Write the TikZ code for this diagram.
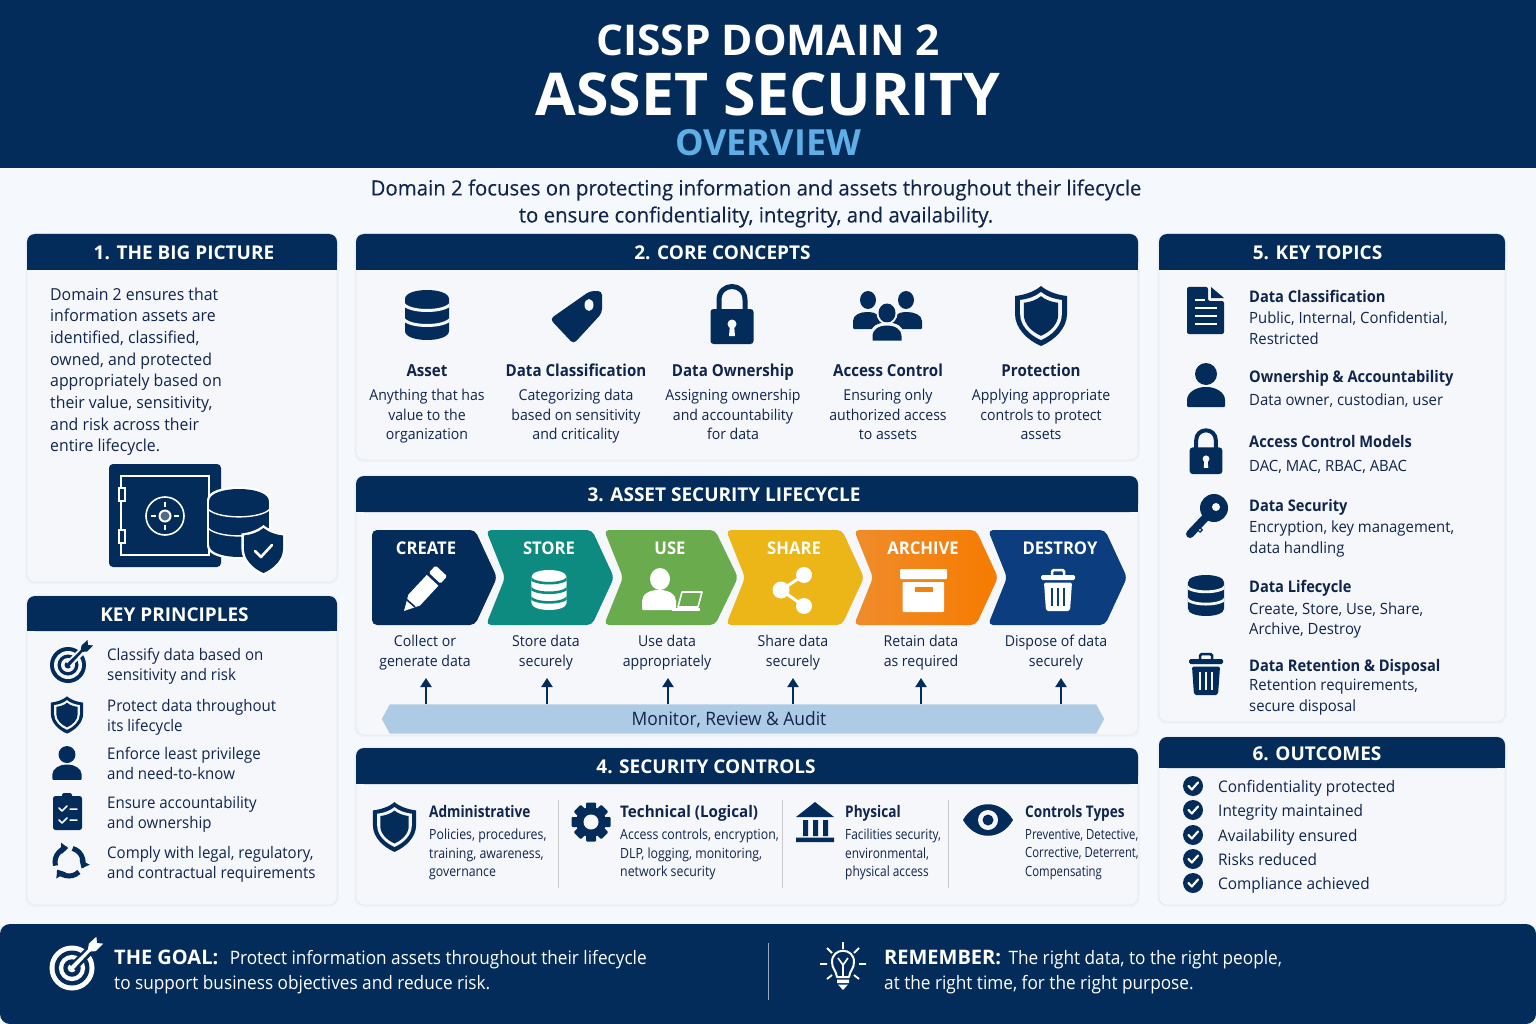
\documentclass[tikz,border=0pt]{standalone}
\usepackage{fontspec}
\usetikzlibrary{arrows.meta,calc}
\setmainfont{Open Sans}
\IfFontExistsTF{Open Sans SemiBold}{\def\sbname{Open Sans SemiBold}}{\def\sbname{Open Sans Bold}}
\newfontfamily\semif{\sbname}
\newfontfamily\semic[FakeStretch=.915]{\sbname}
\newfontfamily\semid[FakeStretch=.95]{\sbname}
\newfontfamily\semie[FakeStretch=.85]{\sbname}
\newfontfamily\bodyf[FakeStretch=.96]{Open Sans}
\newfontfamily\condf[FakeStretch=.94]{Open Sans}
\newfontfamily\secA[FakeStretch=.88]{Open Sans}
\newfontfamily\secB[FakeStretch=.85]{Open Sans}
\newfontfamily\secC[FakeStretch=.81]{Open Sans}
\newfontfamily\botf[FakeStretch=.93]{Open Sans}
\newfontfamily\subf[FakeStretch=.972,FakeBold=.15]{Open Sans}
\newcommand\fz[2]{\fontsize{#1}{#2}\selectfont}
\definecolor{navy}{HTML}{042C5A}
\definecolor{ink}{HTML}{10244C}
\definecolor{pagebg}{HTML}{F5F8FC}
\definecolor{cardbg}{HTML}{F5F7FB}
\definecolor{cardedge}{HTML}{E4E9F1}
\definecolor{skyb}{HTML}{5FAEE6}
\definecolor{barb}{HTML}{AECBE6}
\definecolor{cTeal}{HTML}{0E8B80}
\definecolor{cGreen}{HTML}{6AAB4D}
\definecolor{cYellow}{HTML}{EDB618}
\definecolor{cOrange}{HTML}{F4820F}
\definecolor{cOrangeL}{HTML}{EF8C2B}
\definecolor{cOrangeR}{HTML}{F67B00}
\definecolor{cBlue}{HTML}{0B3D7F}
\tikzset{
 strutted/.style={execute at begin node=\strut,execute at end node=\strut},
 txt/.style={inner sep=0,text=ink,align=left,anchor=west,strutted,yshift=-2.5pt},
 ctr/.style={inner sep=0,text=ink,align=center,strutted,yshift=-2.5pt},
 hdr/.style={inner sep=0,text=white,align=center,font=\semif\fz{19}{24},strutted,yshift=-3pt},
 chevron/.style={rounded corners=5},
 chevlab/.style={inner sep=0,text=white,align=center,font=\semid\fz{17.5}{22},strutted,yshift=-2pt},
 up/.style={draw=navy,line width=2,-{Triangle[length=9,width=11]}},
 sep/.style={draw=#1,line width=.8},
}
% card: x1 y1 x2 y2 yheader name title titlecentre
\newcommand\card[8]{%
 \fill[rounded corners=9,cardedge!55] (#1-2,#2-1) rectangle (#3+2,#4+2);
 \fill[rounded corners=8,cardbg,draw=cardedge,line width=.6] (#1,#2) rectangle (#3,#4);
 \fill[rounded corners=8,navy] (#1,#2) rectangle (#3,#5);
 \fill[navy] (#1,#5-10) rectangle (#3,#5);
 \node[hdr] (#6) at (#8,{(#2+#5)/2}) {#7};
}
\newcommand\icDb[7]{\begin{scope}[shift={(#1,#2)},scale=#3]
 \fill[#4] (-22,-16) .. controls (-22,-28) and (22,-28) .. (22,-16) -- (22,16) .. controls (22,28) and (-22,28) .. (-22,16) -- cycle;
 \begin{scope}
 \clip (-22,-16) .. controls (-22,-28) and (22,-28) .. (22,-16) -- (22,16) .. controls (22,28) and (-22,28) .. (-22,16) -- cycle;
 \foreach \yy in {#7} {\draw[#5,line width=#6] (-24,\yy-3) .. controls (-20,\yy+7) and (20,\yy+7) .. (24,\yy-3);}
 \end{scope}
\end{scope}}
\newcommand\shp{(0,-30) .. controls (7,-24) and (17,-21) .. (26,-20) -- (26,-2) .. controls (26,12) and (14,24) .. (0,30) .. controls (-14,24) and (-26,12) .. (-26,-2) -- (-26,-20) .. controls (-17,-21) and (-7,-24) .. (0,-30) -- cycle}
\newcommand\shieldFill[4]{\begin{scope}[shift={(#1,#2)},scale=#3]\fill[#4] \shp;\end{scope}}
\newcommand\icShield[5]{\begin{scope}[shift={(#1,#2)},scale=#3]\fill[#4] \shp;
 \begin{scope}[scale=.8]\fill[#5] \shp;\end{scope}\begin{scope}[scale=.66]\fill[#4] \shp;\end{scope}\end{scope}}
\newcommand\icTarget[5]{\begin{scope}[shift={(#1,#2)},scale=#3]
 \fill[#4] (0,0) circle (18); \fill[#5] (0,0) circle (14); \fill[#4] (0,0) circle (10.5); \fill[#5] (0,0) circle (7); \fill[#4] (0,0) circle (3.5);
 \fill[#5] (-2,-3) -- (14,-19) -- (19,-14) -- (3,2) -- cycle;
 \fill[#4] (-.8,-1.6) -- (15,-17) -- (16.6,-15.4) -- (.8,1.6) -- cycle;
 \fill[#4] (12.5,-13) -- (13.5,-19.5) -- (19.5,-25) -- (20,-20) -- (25,-19.5) -- (19,-13.5) -- cycle;
\end{scope}}
\newcommand\icPerson[4]{\begin{scope}[shift={(#1,#2)},scale=#3]
 \fill[#4] (0,-11) circle (11);
 \fill[#4,rounded corners=1] (-19,22) -- (-19,16) .. controls (-19,7) and (-9,2) .. (0,2) .. controls (9,2) and (19,7) .. (19,16) -- (19,22) -- cycle;
\end{scope}}
\newcommand\icLock[6]{\begin{scope}[shift={(#1,#2)},scale=#3]
 \draw[#4,line width=#6] (-13,-5) -- (-13,-15) .. controls (-13,-33) and (13,-33) .. (13,-15) -- (13,-5);
 \fill[#4,rounded corners=3] (-21.5,-6) rectangle (21.5,29);
 \fill[#5] (0,9) circle (4.5); \fill[#5] (-2,9) -- (2,9) -- (3,21) -- (-3,21) -- cycle;
\end{scope}}
\newcommand\icTrash[6]{\begin{scope}[shift={(#1,#2)},scale=#3]
 \fill[#4,rounded corners=1.5] (-17,-15) rectangle (17,-10);
 \draw[#4,line width=#6,rounded corners=1.5] (-6,-15) -- (-6,-20) -- (6,-20) -- (6,-15);
 \fill[#4,rounded corners=2] (-14,-7.5) -- (14,-7.5) -- (12,21) -- (-12,21) -- cycle;
 \foreach \xx in {-6,0,6} {\draw[#5,line width=#6] (\xx,-2) -- (\xx,16);}
\end{scope}}
\newcommand\icChk[1]{\begin{scope}[shift={(1193,#1)}]
 \fill[navy] (0,0) circle (10);
 \draw[white,line width=2.2,line cap=round,line join=round] (-4.5,0) -- (-1.2,3.5) -- (5,-3.5);
\end{scope}}
\begin{document}
\begin{tikzpicture}[x=1pt,y=-1pt]
\useasboundingbox (0,0) rectangle (1536,1024);
\fill[pagebg] (0,0) rectangle (1536,1024);
% top banner
\fill[navy] (0,0) rectangle (1536,168);
\node[inner sep=0,text=white,font=\semif\fz{42.4}{48}] (t1) at (768,40) {CISSP DOMAIN 2};
\node[inner sep=0,text=white,font=\bfseries\fz{59}{66}] (t2) at (768,94) {ASSET SECURITY};
\node[inner sep=0,text=skyb,font=\semif\fz{36}{40}] (t3) at (768,142.5) {OVERVIEW};
\node[ctr,font=\subf\fz{21}{27}] (sub) at (756,202.5) {Domain 2 focuses on protecting information and assets throughout their lifecycle\\to ensure confidentiality, integrity, and availability.};
% cards
\card{27}{234}{337}{582}{270}{h1}{1. THE BIG PICTURE}{184}
\card{27}{596}{337}{905}{631}{hk}{KEY PRINCIPLES}{174.5}
\card{356}{234}{1138}{460}{270}{h2}{2. CORE CONCEPTS}{722.5}
\card{356}{476}{1138}{735}{512}{h3}{3. ASSET SECURITY LIFECYCLE}{724}
\card{356}{748}{1138}{905}{784}{h4}{4. SECURITY CONTROLS}{706}
\card{1159}{234}{1505}{722}{270}{h5}{5. KEY TOPICS}{1317.5}
\card{1159}{737}{1505}{905}{768}{h6}{6. OUTCOMES}{1317}
% card 1
\node[txt,font=\bodyf\fz{16.5}{21.7}] (big) at (50,370.5) {Domain 2 ensures that\\information assets are\\identified, classified,\\owned, and protected\\appropriately based on\\their value, sensitivity,\\and risk across their\\entire lifecycle.};
\fill[navy,rounded corners=4] (109,464) rectangle (221,567);
\draw[white,line width=1.6] (121,476) rectangle (209,555);
\draw[white,line width=1.4,fill=navy] (119,488) rectangle (125,501);
\draw[white,line width=1.4,fill=navy] (119,530) rectangle (125,543);
\draw[white,line width=1.6] (165,516) circle (19);
\fill[white] (165,516) circle (6.5); \fill[navy!70!white] (165,516) circle (4.5);
\draw[white,line width=1.6] (165,502) -- (165,507) (165,525) -- (165,530) (151,516) -- (156,516) (174,516) -- (179,516);
\icDb{239}{523}{1.45}{white}{white}{1}{0}
\icDb{239}{523}{1.36}{navy}{white}{1.4}{-9,5}
\shieldFill{263.5}{550.5}{.85}{white}
\shieldFill{263.5}{550.5}{.75}{navy}
\draw[white,line width=2.6,line cap=round,line join=round] (255,551) -- (261,557) -- (272,545);
% key principles
\icTarget{68}{665}{1}{navy}{cardbg}
\icShield{67}{715}{.62}{navy}{cardbg}
\icPerson{67}{763}{.77}{navy}
\fill[navy,rounded corners=2.5] (53,796) rectangle (82,830);
\fill[navy,rounded corners=1.5] (62,793) rectangle (72,799);
\draw[white,line width=1.5,line cap=round,line join=round] (59,808) -- (62,811) -- (67,806) (59,820) -- (62,823) -- (67,818) (70,809) -- (77,809) (70,820) -- (77,820);
\foreach \aa in {-75,45,165} {\draw[navy,line width=5,-{Triangle[length=7,width=11]}] ($(69,862)+(\aa:14)$) arc[start angle=\aa,end angle=\aa+102,radius=14];}
\node[txt,font=\condf\fz{16}{20.5}] (p1) at (107,665) {Classify data based on\\sensitivity and risk};
\node[txt,font=\condf\fz{16}{20.5}] (p2) at (107,716) {Protect data throughout\\its lifecycle};
\node[txt,font=\condf\fz{16}{20.5}] (p3) at (107,764) {Enforce least privilege\\and need-to-know};
\node[txt,font=\condf\fz{16}{20.5}] (p4) at (107,813) {Ensure accountability\\and ownership};
\node[txt,font=\condf\fz{16}{20.5}] (p5) at (107,863) {Comply with legal, regulatory,\\and contractual requirements};
% core concepts
\icDb{427}{315}{1}{navy}{cardbg}{3}{-9,6}
\fill[navy,rounded corners=4] (602,291) -- (590,291) -- (550,319) -- (573.5,344) -- (602,313) -- cycle;
\fill[cardbg] (589,305) ellipse (4.5 and 6);
\icLock{732}{315}{1}{navy}{cardbg}{5}
% people
\fill[navy] (868,300) ellipse (8 and 9); \fill[navy] (906,300) ellipse (8 and 9);
\fill[navy,rounded corners=1] (853,329) -- (853,322) .. controls (853,315) and (860,312) .. (868,312) .. controls (876,312) and (882,316) .. (884,329) -- cycle;
\fill[navy,rounded corners=1] (922,329) -- (922,322) .. controls (922,315) and (914,312) .. (906,312) .. controls (898,312) and (892,316) .. (890,329) -- cycle;
\draw[cardbg,line width=3] (887,313) ellipse (9 and 10);
\fill[navy] (887,313) ellipse (8.5 and 9.5);
\draw[cardbg,line width=3,fill=navy] (871,342) -- (871,336) .. controls (871,328) and (878,324) .. (887,324) .. controls (896,324) and (903,328) .. (903,336) -- (903,342) -- cycle;
\icShield{1041}{316}{1}{navy}{cardbg}
\foreach \xx/\nm/\hh/\dd in {427/a/Asset/{Anything that has\\value to the\\organization},576/b/Data Classification/{Categorizing data\\based on sensitivity\\and criticality},733/c/Data Ownership/{Assigning ownership\\and accountability\\for data},888/d/Access Control/{Ensuring only\\authorized access\\to assets},1041/e/Protection/{Applying appropriate\\controls to protect\\assets}} {
 \node[ctr,font=\semic\fz{16.5}{20}] (cc\nm) at (\xx,370) {\hh};
 \node[ctr,font=\condf\fz{15}{19.5}] (cd\nm) at (\xx,415) {\dd};
}
% lifecycle chevrons
\fill[navy,chevron] (372,530) -- (475,530) -- (497,577.5) -- (475,625) -- (372,625) -- cycle;
\fill[cTeal,chevron] (486,530) -- (592,530) -- (614,577.5) -- (592,625) -- (486,625) -- (505,577.5) -- cycle;
\fill[cGreen,chevron] (604,530) -- (715,530) -- (738,577.5) -- (715,625) -- (604,625) -- (623,577.5) -- cycle;
\fill[cYellow,chevron] (726,530) -- (842,530) -- (864,577.5) -- (842,625) -- (726,625) -- (745,577.5) -- cycle;
\path[chevron,left color=cOrangeL,right color=cOrangeR] (854,530) -- (976,530) -- (998,577.5) -- (976,625) -- (854,625) -- (873,577.5) -- cycle;
\fill[cBlue,chevron] (988,530) -- (1105,530) -- (1127,577.5) -- (1105,625) -- (988,625) -- (1007,577.5) -- cycle;
\foreach \xx/\nm/\ll in {426/a/CREATE,549/b/STORE,670/c/USE,794/d/SHARE,923/e/ARCHIVE,1060/f/DESTROY} {\node[chevlab] (l\nm) at (\xx,548) {\ll};}
% pencil
\fill[white] (404,611) -- (408.4,594.6) -- (426.8,574.9) -- (438.4,585.7) -- (420,605.5) -- cycle;
\fill[white,rounded corners=1.5] (428.8,572.7) -- (435.6,565.5) -- (447.2,576.3) -- (440.4,583.6) -- cycle;
\draw[navy,line width=1.6] (406,599) -- (415,607);
% store db
\icDb{549}{590}{.8}{white}{cTeal}{2.6}{-13,-1,11}
% use
\fill[white] (660,579) ellipse (10 and 11);
\fill[white,rounded corners=1] (642,610) -- (642,602) .. controls (642,594) and (650,590) .. (659,590) .. controls (668,590) and (676,594) .. (676,602) -- (676,610) -- cycle;
\draw[white,line width=1.6,line join=round] (682,592) -- (702,592) -- (698,607) -- (678,607) -- cycle;
\draw[white,line width=2.6] (672,609.5) -- (700,609.5);
% share
\draw[white,line width=3] (804,575) -- (781,590) -- (804,606);
\fill[white] (804,575) circle (8); \fill[white] (781,590) circle (8.5); \fill[white] (804,606) circle (8);
% archive
\fill[white,rounded corners=1] (900,569) rectangle (947,579);
\fill[white,rounded corners=1] (902.5,582) rectangle (944,612);
\fill[cOrange] (915,587) rectangle (933,592);
% destroy
\icTrash{1058}{590}{1}{white}{cBlue}{2.5}
\foreach \xx/\nm/\dd in {425/a/{Collect or\\generate data},546/b/{Store data\\securely},667/c/{Use data\\appropriately},793/d/{Share data\\securely},921/e/{Retain data\\as required},1056/f/{Dispose of data\\securely}} {
 \node[ctr,font=\condf\fz{15}{20}] (ld\nm) at (\xx,651) {\dd};
}
% monitor bar
\node[inner sep=0,minimum width=722,minimum height=29] (mon) at (743,719) {};
\fill[barb] ($(mon.west)$) -- ($(mon.north west)+(8,0)$) -- ($(mon.north east)+(-8,0)$) -- (mon.east) -- ($(mon.south east)+(-8,0)$) -- ($(mon.south west)+(8,0)$) -- cycle;
\node[ctr,font=\condf\fz{18.5}{22}] (monl) at (729,718.5) {Monitor, Review \& Audit};
\foreach \xx/\nm in {426/a,547/b,668/c,793/d,921/e,1061/f} {
 \coordinate (u\nm) at (\xx,678);
 \draw[up] (mon.north -| u\nm) -- (u\nm);
}
% security controls
\icShield{394.5}{827}{.83}{navy}{cardbg}
\foreach \aa in {0,45,...,315} {\begin{scope}[shift={(591,822)},rotate=\aa]\fill[navy,rounded corners=1] (-5,-19.5) rectangle (5,-10);\end{scope}}
\fill[navy] (591,822) circle (15); \fill[cardbg] (591,822) circle (7.5);
\fill[navy] (815,802) -- (834,817) -- (796,817) -- cycle;
\fill[navy] (803,820) rectangle (808,836) (813,820) rectangle (818,836) (823,820) rectangle (828,836) (796,837.5) rectangle (834,842);
\fill[navy] (963,820) .. controls (975,799) and (1001,799) .. (1013,820) .. controls (1001,841) and (975,841) .. (963,820) -- cycle;
\fill[cardbg] (988,820) circle (10); \fill[navy] (988,820) circle (5.5);
\foreach \xx in {558,782,948} {\coordinate (s1) at (\xx,800); \coordinate (s2) at (\xx,888); \draw[sep=black!18!cardbg] (s1) -- (s2);}
\foreach \xx/\nm/\hf/\bf/\hh/\dd in {429/a/\semie/\secA/Administrative/{Policies, procedures,\\training, awareness,\\governance},620/b/\semid/\secA/Technical (Logical)/{Access controls, encryption,\\DLP, logging, monitoring,\\network security},845/c/\semie/\secB/Physical/{Facilities security,\\environmental,\\physical access},1025/d/\semie/\secC/Controls Types/{Preventive, Detective,\\Corrective, Deterrent,\\Compensating}} {
 \node[txt,font=\hf\fz{16}{20}] (sh\nm) at (\xx,810.5) {\hh};
 \node[txt,font=\bf\fz{14}{18.5}] (sd\nm) at (\xx,853) {\dd};
}
% key topics
\fill[navy,rounded corners=2] (1187,287) -- (1208,287) -- (1208,301) -- (1224,301) -- (1224,334) -- (1187,334) -- cycle;
\fill[navy] (1211,287) -- (1224,298) -- (1211,298) -- cycle;
\draw[white,line width=2.4] (1195,300) -- (1205,300) (1195,308) -- (1217,308) (1195,316) -- (1217,316) (1195,324) -- (1217,324);
\icPerson{1206}{385}{1}{navy}
\icLock{1206}{452}{.76}{navy}{cardbg}{4}
\fill[navy] (1214,508) circle (14);
\fill[cardbg] (1216,507) circle (4);
\draw[navy,line width=8,line cap=round] (1207,516) -- (1190,534);
\fill[navy] (1196,523) -- (1203,530) -- (1200,533) -- (1193,526) -- cycle;
\fill[cardbg] (1200,530) circle (1.2);
\icDb{1206}{595.5}{.82}{navy}{cardbg}{2.8}{-9,6}
\icTrash{1206}{674}{1}{navy}{cardbg}{2.5}
\foreach \yy/\nm/\hh in {296/a/Data Classification,376/b/Ownership \& Accountability,441/c/Access Control Models,505/d/Data Security,586/e/Data Lifecycle,665/f/Data Retention \& Disposal} {\node[txt,font=\semic\fz{16}{20}] (kh\nm) at (1249,\yy) {\hh};}
\foreach \yy/\nm/\dd in {328.5/a/{Public, Internal, Confidential,\\Restricted},399/b/{Data owner, custodian, user},465/c/{DAC, MAC, RBAC, ABAC},537.5/d/{Encryption, key management,\\data handling},619/e/{Create, Store, Use, Share,\\Archive, Destroy},696/f/{Retention requirements,\\secure disposal}} {\node[txt,font=\bodyf\fz{15.5}{20.5}] (kd\nm) at (1249,\yy) {\dd};}
% outcomes
\foreach \yy/\nm/\dd in {786/a/Confidentiality protected,810/b/Integrity maintained,835/c/Availability ensured,859/d/Risks reduced,883/e/Compliance achieved} {
 \icChk{\yy}
 \node[txt,font=\bodyf\fz{16}{20}] (o\nm) at (1218,\yy) {\dd};
}
% bottom banner
\fill[navy,rounded corners=10] (0,924) rectangle (1536,1024);
\icTarget{72}{968}{1.25}{white}{navy}
\node[txt,text=white,font=\botf\fz{18.5}{25}] (goal) at (114,971) {{\semif\fz{20}{25}THE GOAL:}\hspace{7pt} Protect information assets throughout their lifecycle\\to support business objectives and reduce risk.};
\coordinate (b1) at (768,943); \coordinate (b2) at (768,1000);
\draw[sep=white!60!navy] (b1) -- (b2);
% bulb
\draw[white,line width=2,line join=round] (837,977) .. controls (836,970) and (832,969) .. (832,962) .. controls (832,947) and (854,947) .. (854,962) .. controls (854,969) and (850,970) .. (849,977) -- cycle;
\draw[white,line width=1.6] (843,977) -- (843,965) (838,958) -- (843,965) -- (848,958);
\fill[white] (837,979.5) rectangle (849,983) (838,984.5) -- (848,984.5) -- (843,990) -- cycle;
\draw[white,line width=1.8] (843,942) -- (843,949) (827,948) -- (832,953) (859,948) -- (854,953) (820,964) -- (827,964) (859,964) -- (866,964) (827,979) -- (832,975) (859,979) -- (854,975);
\node[txt,text=white,font=\botf\fz{18.5}{25}] (rem) at (884,971) {{\semif\fz{20}{25}REMEMBER:}\hspace{3pt} The right data, to the right people,\\at the right time, for the right purpose.};
\end{tikzpicture}
\end{document}
